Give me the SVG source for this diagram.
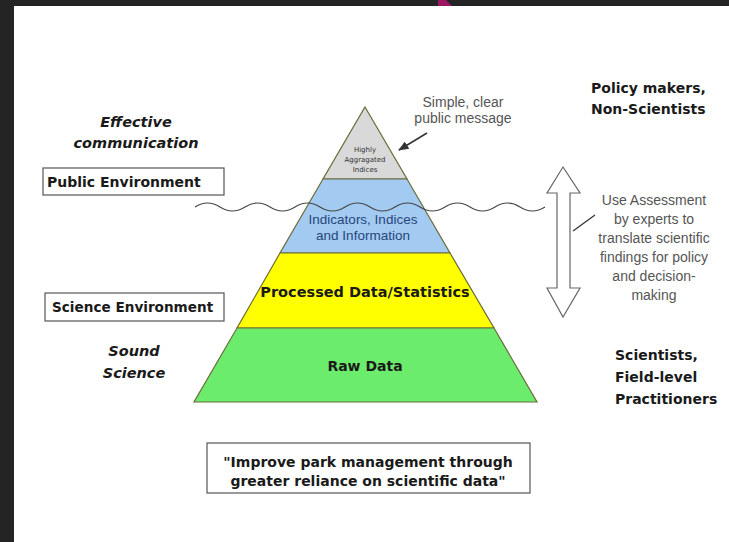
<svg xmlns="http://www.w3.org/2000/svg" width="729" height="542" viewBox="0 0 729 542">
<style>
.b{font-family:"DejaVu Sans",Verdana,sans-serif;font-weight:bold;fill:#1a1a1a}
.it{font-family:"DejaVu Sans",Verdana,sans-serif;font-weight:bold;font-style:italic;fill:#1a1a1a;font-size:14.5px;text-anchor:middle}
.g{font-family:"Liberation Sans",Arial,sans-serif;fill:#555;font-size:14px;text-anchor:middle}
.box{fill:#fff;stroke:#555;stroke-width:1.2}
.band{stroke:#6b6b3a;stroke-width:1.2}
</style>
<defs>
<marker id="ah" viewBox="0 0 10 10" refX="9" refY="5" markerWidth="7" markerHeight="7" orient="auto"><path d="M0,1 L10,5 L0,9 z" fill="#333"/></marker>
</defs>
<rect x="0" y="0" width="729" height="542" fill="#242424"/>
<rect x="14" y="6" width="715" height="536" fill="#fff"/>
<polygon points="438,0 446,0 452,6 438,6" fill="#9a1763"/>

<g id="pyramid">
<g id="layer-top"><polygon class="band" points="365,107 407,179 323,179" fill="#d9d9d9"/>
<text font-family="DejaVu Sans,sans-serif" font-size="7" fill="#333" text-anchor="middle"><tspan x="365" y="152">Highly</tspan><tspan x="365" y="162">Aggragated</tspan><tspan x="365" y="172">Indices</tspan></text></g>
<g id="layer-indicators"><polygon class="band" points="323,179 407,179 450,253 280,253" fill="#a3cbf2"/>
<text font-family="Liberation Sans,Arial,sans-serif" font-size="13.5" fill="#27457a" text-anchor="middle"><tspan x="363" y="224">Indicators, Indices</tspan><tspan x="363" y="240">and Information</tspan></text></g>
<g id="layer-processed"><polygon class="band" points="280,253 450,253 494,328 237,328" fill="#ffff00"/>
<text class="b" x="365" y="297" font-size="14.5" text-anchor="middle">Processed Data/Statistics</text></g>
<g id="layer-raw"><polygon class="band" points="237,328 494,328 537,402 194,402" fill="#6cec6c"/>
<text class="b" x="365" y="371" font-size="14" text-anchor="middle">Raw Data</text></g>
</g>

<g id="connectors" fill="none">
<path d="M195,207 q12.5,-8 25,0 t25,0 t25,0 t25,0 t25,0 t25,0 t25,0 t25,0 t25,0 t25,0 t25,0 t25,0 t25,0 t25,0" stroke="#444" stroke-width="1.1"/>
<line x1="427" y1="133" x2="399" y2="150" stroke="#333" stroke-width="1.5" marker-end="url(#ah)"/>
<line x1="595" y1="215" x2="573" y2="231" stroke="#333" stroke-width="1.2"/>
</g>

<g id="double-arrow">
<polygon points="563,167 580,193 570,193 570,288 580,288 563,317 547,288 557,288 557,193 547,193" fill="#fff" stroke="#666" stroke-width="1.2"/>
</g>

<g id="effective"><text class="it"><tspan x="136" y="127">Effective</tspan><tspan x="136" y="148">communication</tspan></text></g>
<g id="public-env"><rect class="box" x="43" y="168" width="181" height="27"/><text class="b" x="47" y="187" font-size="14">Public Environment</text></g>
<g id="science-env"><rect class="box" x="45" y="293" width="179" height="28"/><text class="b" x="52" y="312" font-size="13.6">Science Environment</text></g>
<g id="sound"><text class="it"><tspan x="134" y="356">Sound</tspan><tspan x="134" y="378">Science</tspan></text></g>

<g id="simple-msg"><text class="g"><tspan x="463" y="107">Simple, clear</tspan><tspan x="463" y="123">public message</tspan></text></g>
<g id="policy"><text class="b" font-size="14"><tspan x="591" y="93">Policy makers,</tspan><tspan x="591" y="114">Non-Scientists</tspan></text></g>
<g id="assessment"><text class="g" font-size="15.5"><tspan x="654" y="205">Use Assessment</tspan><tspan x="654" y="224">by experts to</tspan><tspan x="654" y="243">translate scientific</tspan><tspan x="654" y="262">findings for policy</tspan><tspan x="654" y="281">and decision-</tspan><tspan x="654" y="300">making</tspan></text></g>
<g id="scientists"><text class="b" font-size="14"><tspan x="615" y="360">Scientists,</tspan><tspan x="615" y="382">Field-level</tspan><tspan x="615" y="404">Practitioners</tspan></text></g>
<g id="quote"><rect class="box" x="207" y="443" width="323" height="50"/><text class="b" font-size="14" text-anchor="middle"><tspan x="368" y="467">"Improve park management through</tspan><tspan x="368" y="486">greater reliance on scientific data"</tspan></text></g>
</svg>
